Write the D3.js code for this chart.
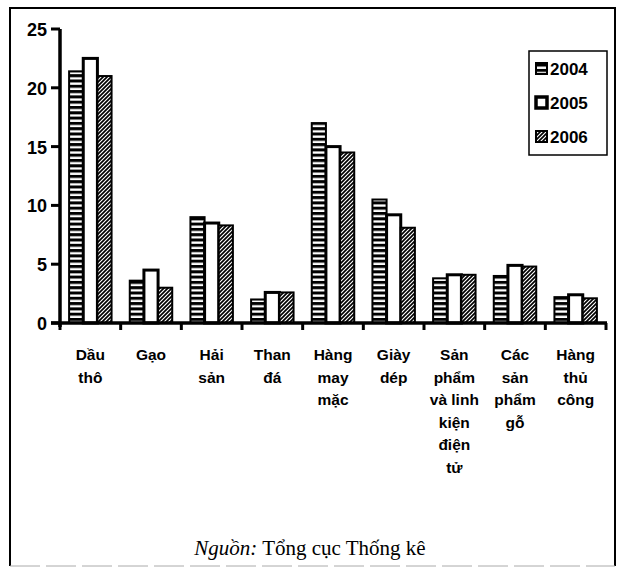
<!DOCTYPE html>
<html>
<head>
<meta charset="utf-8">
<script src="https://cdn.jsdelivr.net/npm/d3@7"></script>
<style>
  body { margin: 0; background: #fff; }
  svg { display: block; }
  .lbl { font-family: "Liberation Sans Narrow", "Arial Narrow", "Liberation Sans", Arial, sans-serif; font-weight: bold; }
</style>
</head>
<body>
<svg width="621" height="567"></svg>
<script>
const svg = d3.select("svg");

// Data
const categories = [
  ["Dầu", "thô"],
  ["Gạo"],
  ["Hải", "sản"],
  ["Than", "đá"],
  ["Hàng", "may", "mặc"],
  ["Giày", "dép"],
  ["Sản", "phẩm", "và linh", "kiện", "điện", "tử"],
  ["Các", "sản", "phẩm", "gỗ"],
  ["Hàng", "thủ", "công"]
];
const years = ["2004", "2005", "2006"];
const v2004 = [21.4, 3.6, 9.0, 2.0, 17.0, 10.5, 3.8, 4.0, 2.2];
const v2005 = [22.5, 4.5, 8.5, 2.6, 15.0, 9.2, 4.1, 4.9, 2.4];
const v2006 = [21.0, 3.0, 8.3, 2.6, 14.5, 8.1, 4.1, 4.8, 2.1];
const yTicks = [0, 5, 10, 15, 20, 25];

const series = [v2004, v2005, v2006];

// Patterns
const defs = svg.append("defs");
const ph = defs.append("pattern").attr("id", "p2004")
  .attr("patternUnits", "userSpaceOnUse").attr("width", 8).attr("height", 5.3);
ph.append("rect").attr("width", 8).attr("height", 5.3).attr("fill", "#fff");
ph.append("rect").attr("y", 0).attr("width", 8).attr("height", 3).attr("fill", "#000");

const pd = defs.append("pattern").attr("id", "p2006")
  .attr("patternUnits", "userSpaceOnUse").attr("width", 4).attr("height", 4);
pd.append("rect").attr("width", 4).attr("height", 4).attr("fill", "#fff");
pd.append("path").attr("d", "M-1,1 l2,-2 M0,4 l4,-4 M3,5 l2,-2")
  .attr("stroke", "#000").attr("stroke-width", 1.7);

const fills = ["url(#p2004)", "#fff", "url(#p2006)"];
const strokeW = [2, 3, 2];

// Frame
svg.append("path").attr("d", "M10,566 V8 H615 V566")
  .attr("fill", "none").attr("stroke", "#000").attr("stroke-width", 2);
svg.append("line").attr("x1", 10).attr("x2", 615).attr("y1", 566).attr("y2", 566)
  .attr("stroke", "#aaa").attr("stroke-width", 1).attr("stroke-dasharray", "30,6");

// Scales
const x0 = d3.scaleBand().domain(d3.range(categories.length)).range([60, 606]).paddingInner(0.3).paddingOuter(0.15);
const xTick = d3.scaleLinear().domain([0, categories.length]).range([60, 606]);
const x1 = d3.scaleBand().domain(d3.range(years.length)).range([0, x0.bandwidth()]);
const y = d3.scaleLinear().domain([0, 25]).range([323, 29]);

// Bars
years.forEach((yr, s) => {
  svg.append("g").selectAll("rect")
    .data(series[s])
    .enter()
    .append("rect")
    .attr("x", (d, i) => x0(i) + x1(s))
    .attr("y", d => y(d))
    .attr("width", x1.bandwidth())
    .attr("height", d => y(0) - y(d))
    .attr("fill", fills[s])
    .attr("stroke", "#000")
    .attr("stroke-width", strokeW[s]);
});

// Y axis
svg.append("line").attr("x1", 60).attr("x2", 60).attr("y1", y(25)).attr("y2", y(0) + 4)
  .attr("stroke", "#000").attr("stroke-width", 3.5);
svg.append("g").selectAll("line").data(yTicks).enter().append("line")
  .attr("x1", 51).attr("x2", 60).attr("y1", d => y(d)).attr("y2", d => y(d))
  .attr("stroke", "#000").attr("stroke-width", 3);
svg.append("g").selectAll("text").data(yTicks).enter().append("text")
  .attr("class", "lbl")
  .attr("x", 47).attr("y", d => y(d) + 7)
  .attr("text-anchor", "end").attr("font-size", 18)
  .text(d => d);

// X axis
svg.append("line").attr("x1", 51).attr("x2", 607).attr("y1", y(0)).attr("y2", y(0))
  .attr("stroke", "#000").attr("stroke-width", 3.5);
svg.append("g").selectAll("line").data(d3.range(categories.length + 1)).enter().append("line")
  .attr("x1", d => xTick(d)).attr("x2", d => xTick(d))
  .attr("y1", y(0)).attr("y2", y(0) + 7)
  .attr("stroke", "#000").attr("stroke-width", 3);

// Category labels
const catG = svg.append("g").selectAll("text").data(categories).enter().append("text")
  .attr("class", "lbl")
  .attr("text-anchor", "middle").attr("font-size", 15.5);
catG.selectAll("tspan").data((d, i) => d.map(t => ({ t, i }))).enter().append("tspan")
  .attr("x", d => x0(d.i) + x0.bandwidth() / 2)
  .attr("y", (d, j) => 360 + j * 22.6)
  .text(d => d.t);

// Legend
const lg = svg.append("g");
lg.append("rect").attr("x", 529).attr("y", 51).attr("width", 78).attr("height", 104)
  .attr("fill", "#fff").attr("stroke", "#000").attr("stroke-width", 1.5);
years.forEach((yr, s) => {
  const cy = 68 + s * 34;
  lg.append("rect").attr("x", 536).attr("y", cy - 5).attr("width", 11).attr("height", 11)
    .attr("fill", fills[s]).attr("stroke", "#000").attr("stroke-width", s === 1 ? 3.5 : 2);
  lg.append("text").attr("class", "lbl").attr("x", 550).attr("y", cy + 6.5)
    .attr("font-size", 17).text(yr);
});

// Source
const src = svg.append("text").attr("x", 310).attr("y", 555).attr("text-anchor", "middle")
  .attr("font-family", "'Liberation Serif', 'Times New Roman', serif").attr("font-size", 21);
src.append("tspan").attr("font-style", "italic").text("Nguồn:");
src.append("tspan").text(" Tổng cục Thống kê");
</script>
</body>
</html>
